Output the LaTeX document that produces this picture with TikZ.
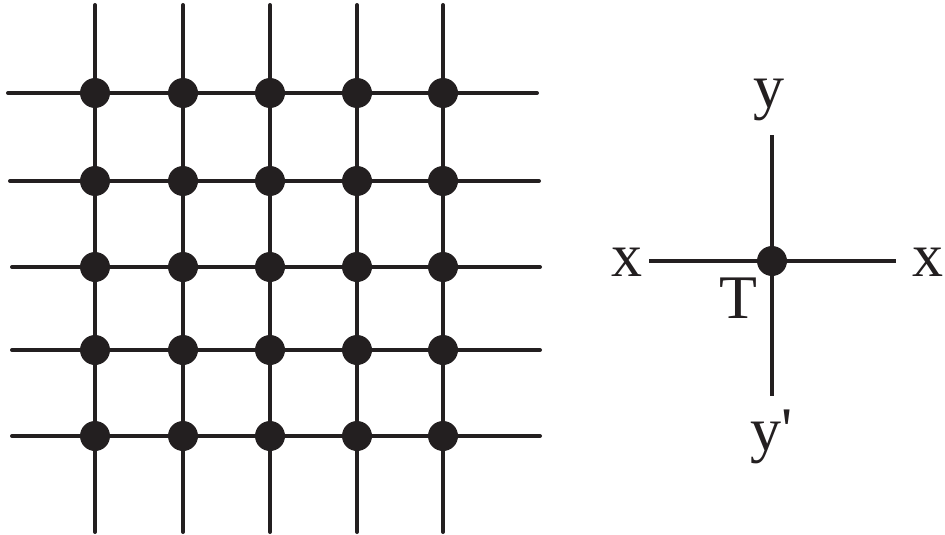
\documentclass[tikz,border=0pt]{standalone}
\usepackage{fontspec}
\setmainfont{Liberation Serif}
\definecolor{ink}{HTML}{231F20}
\begin{document}
\begin{tikzpicture}[x=1pt,y=-1pt,
  gline/.style={line width=4pt,draw=ink,line cap=round},
  dot/.style={circle,fill=ink,inner sep=0pt,minimum size=30pt},
  lbl/.style={font=\fontsize{62}{62}\selectfont,text=ink,inner sep=0pt}]
\useasboundingbox (0,0) rectangle (945,535);
% grid columns and rows
\foreach \x [count=\i] in {95,183,270,357,443} {
  \coordinate (vt\i) at (\x,5);
  \coordinate (vb\i) at (\x,532);
  \draw[gline] (vt\i) -- (vb\i);
}
\foreach \y/\a/\b [count=\j] in {93/8/537,181/10/539,267/12/540,350/12/540,436/12/540} {
  \coordinate (hl\j) at (\a,\y);
  \coordinate (hr\j) at (\b,\y);
  \draw[gline] (hl\j) -- (hr\j);
}
\foreach \x [count=\i] in {95,183,270,357,443} {
  \foreach \y [count=\j] in {93,181,267,350,436} {
    \node[dot] (d\i\j) at (\x,\y) {};
  }
}
% single crossing
\coordinate (ct) at (772,135);
\coordinate (cb) at (772,396);
\coordinate (cl) at (649,261);
\coordinate (cr) at (896,261);
\draw[gline,line cap=butt] (ct) -- (cb);
\draw[gline,line cap=butt] (cl) -- (cr);
\node[dot] (T) at (772,261) {};
\node[lbl] (ly) at (769,100) {y};
\node[lbl] (lyp) at (772,437) {y\textquotesingle};
\node[lbl] (lxl) at (627,262) {x};
\node[lbl] (lxr) at (928,262) {x};
\node[lbl] (lT) at (738,298) {T};
\end{tikzpicture}
\end{document}
